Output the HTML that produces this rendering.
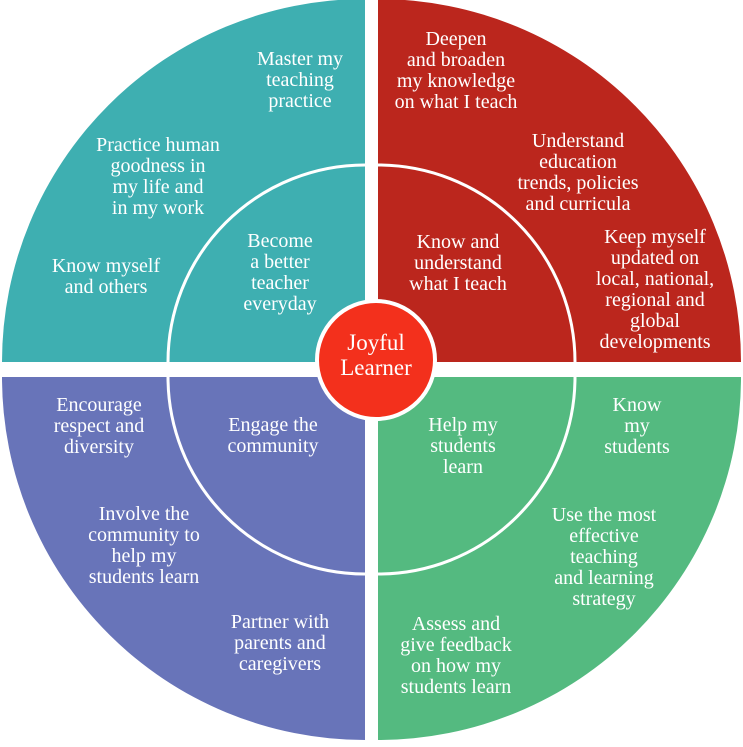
<!DOCTYPE html>
<html><head><meta charset="utf-8"><style>
html,body{margin:0;padding:0;background:#fff;}
svg{display:block;}
text{font-family:"Liberation Serif","Times New Roman",Times,"DejaVu Serif",serif;font-size:20px;fill:#fff;text-anchor:middle;}
</style></head><body>
<svg width="743" height="747" viewBox="0 0 743 747" xmlns="http://www.w3.org/2000/svg">
<path d="M365,362 L2,362 A363,363 0 0 1 365,-1 Z" fill="#3EAFB1"/>
<path d="M378,362 L378,-1 A363,363 0 0 1 741,362 Z" fill="#BB261D"/>
<path d="M365,377 L365,740 A363,363 0 0 1 2,377 Z" fill="#6874B9"/>
<path d="M378,377 L741,377 A363,363 0 0 1 378,740 Z" fill="#54BA80"/>
<g fill="none" stroke="#fff" stroke-width="3">
<path d="M168,362 A197,197 0 0 1 365,165"/>
<path d="M378,165 A197,197 0 0 1 575,362"/>
<path d="M365,574 A197,197 0 0 1 168,377"/>
<path d="M575,377 A197,197 0 0 1 378,574"/>
</g>
<circle cx="376" cy="360" r="59" fill="#F3301C" stroke="#fff" stroke-width="4"/>
<text x="376" y="350" style="font-size:23px">Joyful</text>
<text x="376" y="375" style="font-size:23px">Learner</text>

<text x="300" y="65">Master my</text><text x="300" y="86">teaching</text><text x="300" y="107">practice</text>
<text x="158" y="151">Practice human</text><text x="158" y="172">goodness in</text><text x="158" y="193">my life and</text><text x="158" y="214">in my work</text>
<text x="106" y="272">Know myself</text><text x="106" y="293">and others</text>
<text x="280" y="247">Become</text><text x="280" y="268">a better</text><text x="280" y="289">teacher</text><text x="280" y="310">everyday</text>

<text x="456" y="45">Deepen</text><text x="456" y="66">and broaden</text><text x="456" y="87">my knowledge</text><text x="456" y="108">on what I teach</text>
<text x="578" y="147">Understand</text><text x="578" y="168">education</text><text x="578" y="189">trends, policies</text><text x="578" y="210">and curricula</text>
<text x="655" y="243">Keep myself</text><text x="655" y="264">updated on</text><text x="655" y="285">local, national,</text><text x="655" y="306">regional and</text><text x="655" y="327">global</text><text x="655" y="348">developments</text>
<text x="458" y="248">Know and</text><text x="458" y="269">understand</text><text x="458" y="290">what I teach</text>

<text x="99" y="411">Encourage</text><text x="99" y="432">respect and</text><text x="99" y="453">diversity</text>
<text x="144" y="520">Involve the</text><text x="144" y="541">community to</text><text x="144" y="562">help my</text><text x="144" y="583">students learn</text>
<text x="280" y="628">Partner with</text><text x="280" y="649">parents and</text><text x="280" y="670">caregivers</text>
<text x="273" y="431">Engage the</text><text x="273" y="452">community</text>

<text x="637" y="411">Know</text><text x="637" y="432">my</text><text x="637" y="453">students</text>
<text x="463" y="431">Help my</text><text x="463" y="452">students</text><text x="463" y="473">learn</text>
<text x="604" y="521">Use the most</text><text x="604" y="542">effective</text><text x="604" y="563">teaching</text><text x="604" y="584">and learning</text><text x="604" y="605">strategy</text>
<text x="456" y="630">Assess and</text><text x="456" y="651">give feedback</text><text x="456" y="672">on how my</text><text x="456" y="693">students learn</text>
</svg>
</body></html>
